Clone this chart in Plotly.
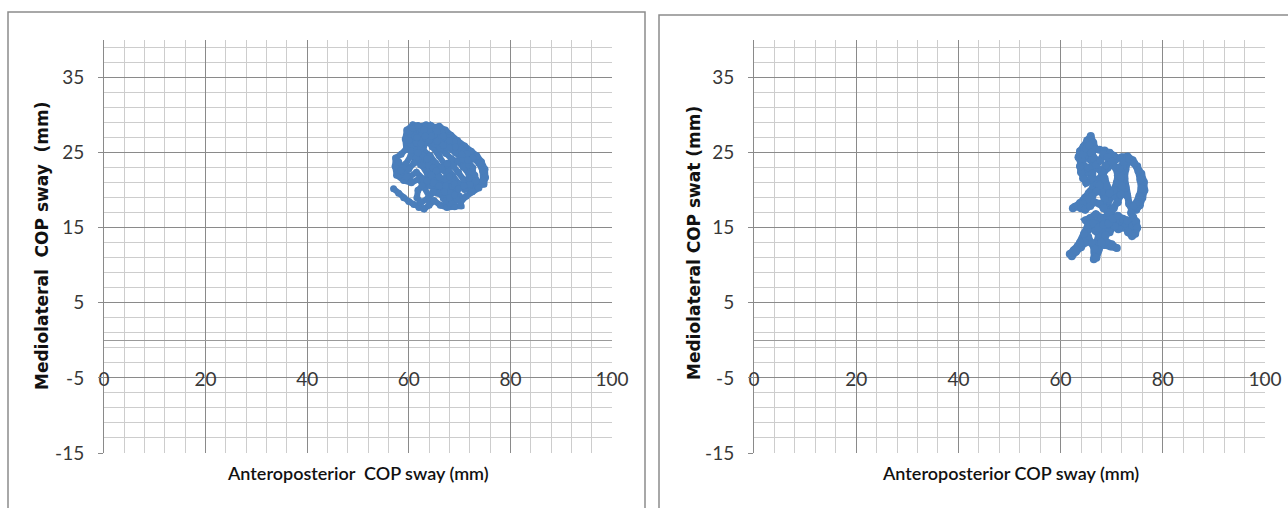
import plotly.graph_objects as go

# ---------------- data ----------------
left_x = [57.0, 58.0, 59.0, 60.0, 61.0, 62.0, 63.0, 64.0, 65.0, 66.2, 67.5, 69.0, 70.3, 70.0, 68.5, 67.0, 65.5, 64.0, 63.0, 62.0,
          60.5, 59.0, 57.6, 57.3, 57.4, 58.5, 59.5, 59.3, 59.6, 60.8, 62.0, 63.4, 64.8, 66.0, 67.2, 68.3, 69.6, 71.0, 72.3, 73.4,
          74.3, 75.0, 75.1, 74.8, 73.5, 72.3, 71.0, 69.8, 68.6, 67.3, 66.0, 64.6, 63.3, 62.2, 61.2, 60.5, 61.0, 62.3, 63.8, 65.2,
          66.5, 67.8, 69.0, 69.5, 69.0, 68.0, 66.6, 65.3, 64.2, 63.0, 61.6, 60.4, 59.4, 59.0, 60.2, 61.5, 62.8, 64.2, 65.6, 66.8,
          68.0, 66.5, 65.0, 63.5, 62.4, 61.5, 62.6, 63.8, 65.0, 66.3, 67.4, 68.6, 70.0, 71.3, 72.2, 73.0, 73.7, 72.8, 71.8, 70.7,
          69.6, 68.4, 67.3, 66.2, 65.1, 64.0, 63.0, 62.8, 63.8, 64.9, 66.1, 67.4, 68.5, 69.5, 70.2, 71.3, 72.5, 73.8, 74.6, 74.5,
          73.8, 72.6, 71.4, 70.2, 69.0, 67.8, 66.6, 65.3, 64.0, 62.6, 61.2, 60.2, 60.0, 60.3, 61.5, 62.6, 63.7, 64.8, 66.0, 67.2,
          68.2, 67.2, 66.0, 64.8, 63.6, 62.4, 61.6, 60.8, 61.8, 63.0, 64.4, 65.6, 66.8, 68.0, 69.2, 70.6, 71.8, 72.6, 73.2, 72.0,
          70.8, 69.8, 68.8, 67.6, 66.4, 65.4, 64.4, 63.6, 62.6, 61.8, 61.6, 62.4, 63.6, 64.8, 66.0, 67.0, 68.0, 69.0, 69.8, 70.8,
          71.8, 72.6, 71.6, 70.4, 69.2, 68.0, 66.8, 65.6, 64.4, 63.2, 62.4, 61.8, 61.0, 60.0, 58.8, 58.0, 58.4, 59.6]
left_y = [20.2, 19.6, 19.0, 18.5, 18.1, 17.7, 17.5, 18.0, 18.6, 18.0, 17.7, 17.8, 17.9, 19.2, 20.5, 21.5, 20.0, 19.2, 20.4, 21.5,
          21.0, 21.3, 22.0, 23.2, 24.3, 24.8, 25.5, 26.8, 28.0, 28.7, 28.5, 28.7, 28.4, 28.5, 28.0, 27.3, 26.6, 25.9, 25.2, 24.6,
          23.8, 22.8, 21.7, 20.8, 20.5, 20.2, 20.1, 20.9, 22.0, 23.3, 24.6, 25.8, 26.9, 27.8, 27.2, 26.0, 24.5, 23.4, 22.4, 21.3,
          20.3, 19.3, 18.5, 19.5, 20.8, 21.8, 22.7, 23.6, 24.6, 25.2, 25.4, 24.6, 23.5, 22.4, 21.8, 22.4, 21.5, 20.6, 19.6, 18.9,
          18.3, 20.6, 22.1, 23.6, 24.8, 26.3, 27.6, 27.7, 27.3, 27.0, 26.2, 25.4, 24.6, 23.8, 22.8, 22.0, 21.0, 21.3, 22.2, 23.1,
          23.8, 24.2, 24.9, 25.6, 26.2, 26.6, 26.0, 24.6, 23.4, 22.6, 21.6, 20.6, 19.6, 18.8, 18.4, 19.2, 19.8, 20.3, 21.3, 22.6,
          23.6, 24.3, 24.9, 25.6, 26.4, 27.0, 27.6, 28.2, 27.9, 28.1, 28.3, 27.8, 26.6, 25.3, 24.4, 23.3, 22.1, 21.0, 19.6, 18.6,
          19.6, 20.6, 21.8, 23.0, 24.2, 25.6, 27.0, 28.2, 28.6, 28.0, 27.2, 26.5, 26.0, 25.6, 25.0, 24.2, 23.4, 22.4, 21.2, 20.8,
          21.4, 22.4, 23.2, 23.6, 23.0, 22.6, 22.0, 21.2, 20.6, 20.0, 19.0, 18.4, 18.8, 19.8, 20.6, 19.8, 19.0, 19.4, 20.2, 20.6,
          21.6, 23.0, 24.0, 24.8, 25.8, 26.6, 27.2, 27.8, 28.6, 27.2, 26.2, 25.0, 23.6, 22.8, 23.0, 23.8, 22.6, 21.8]

right_x = [61.8, 62.6, 63.4, 64.2, 64.8, 65.4, 66.2, 67.2, 68.3, 69.5, 70.7, 71.8, 72.8, 73.6, 74.4, 74.6, 73.8, 73.4, 72.5, 71.3,
           70.2, 69.0, 68.0, 67.4, 66.8, 66.6, 66.5, 66.9, 67.6, 68.6, 69.8, 71.0, 70.0, 68.8, 67.8, 66.8, 65.8, 64.9, 65.8, 66.9,
           68.0, 69.2, 70.4, 69.8, 69.2, 68.6, 67.8, 66.8, 65.8, 64.8, 63.8, 62.8, 62.4, 63.4, 64.5, 65.5, 66.4, 67.4, 68.3, 69.2,
           70.2, 71.0, 72.0, 73.1, 74.1, 75.0, 75.8, 76.3, 76.4, 76.0, 75.5, 74.8, 74.0, 73.4, 73.0, 72.7, 72.5, 72.7, 73.0, 72.2,
           71.6, 71.2, 70.8, 70.2, 69.4, 68.6, 68.0, 67.2, 66.3, 65.3, 64.6, 64.0, 63.5, 63.8, 64.5, 65.2, 65.9, 66.4, 66.8, 67.6,
           68.6, 69.6, 70.4, 69.6, 68.8, 68.0, 67.2, 66.4, 65.6, 64.8, 64.2, 64.6, 65.5, 66.2, 65.8, 65.0, 64.4, 64.0, 63.8, 64.4,
           65.0, 65.6, 66.0, 66.6, 67.0, 67.8, 68.4, 69.2, 70.0, 70.8, 71.2, 71.0, 70.4, 69.6, 69.0, 68.6, 67.6, 67.0, 66.2, 65.2,
           64.4, 64.0, 64.8, 65.8, 66.6, 67.6, 68.4, 69.4, 70.4, 71.2, 71.8, 72.0, 71.8, 71.6, 72.4, 73.4, 74.4, 75.2, 75.6, 75.8,
           75.4, 74.8, 74.2, 73.8, 74.2, 74.8, 75.0, 74.6, 74.0, 73.2, 72.6, 71.6, 70.6, 69.6, 68.8, 68.0, 67.4, 67.0, 66.6, 66.0,
           65.4, 64.8, 64.0, 63.0, 62.2, 63.0, 63.8, 64.6, 65.4, 66.4, 67.4, 68.4, 69.4, 70.2, 71.2, 72.2, 73.0]
right_y = [11.5, 12.0, 12.6, 13.2, 14.0, 14.8, 15.4, 15.8, 16.0, 15.9, 15.7, 15.8, 15.6, 15.9, 15.4, 14.6, 14.2, 15.2, 15.0, 14.8,
           15.4, 15.0, 14.4, 13.6, 12.8, 11.8, 10.8, 11.9, 12.6, 12.7, 12.5, 12.3, 12.8, 13.2, 13.8, 14.6, 15.5, 16.0, 16.3, 16.8,
           16.3, 16.6, 16.4, 17.4, 18.4, 19.4, 20.2, 20.6, 19.8, 19.0, 18.3, 17.8, 17.6, 17.9, 18.6, 19.6, 20.6, 21.4, 22.2, 23.0,
           23.5, 24.2, 24.4, 24.5, 24.0, 23.2, 22.2, 21.1, 20.0, 19.0, 18.0, 17.4, 17.3, 18.2, 19.3, 20.4, 21.6, 22.8, 23.6, 23.2,
           22.2, 21.2, 20.2, 19.2, 18.6, 18.8, 19.8, 20.8, 21.7, 22.4, 22.8, 23.6, 24.4, 25.2, 25.8, 26.6, 27.2, 26.3, 25.5, 25.4,
           25.3, 25.0, 24.6, 24.0, 23.3, 22.5, 22.9, 23.6, 24.2, 24.6, 24.0, 23.2, 23.0, 22.2, 21.4, 21.0, 21.6, 22.4, 23.2, 24.8,
           25.6, 26.0, 25.0, 24.2, 23.4, 24.0, 24.8, 24.4, 23.8, 23.0, 22.0, 21.0, 20.0, 19.6, 20.6, 21.6, 20.6, 19.8, 19.2, 18.8,
           18.2, 17.6, 17.4, 17.9, 18.4, 18.2, 17.6, 17.0, 17.6, 18.4, 19.4, 20.6, 21.8, 23.0, 23.8, 24.2, 23.6, 22.6, 21.4, 20.2,
           19.2, 18.2, 17.8, 17.0, 16.4, 15.8, 15.0, 14.2, 13.9, 14.4, 15.6, 16.0, 15.2, 14.4, 14.0, 13.0, 12.0, 11.0, 12.2, 13.0,
           13.8, 13.0, 12.4, 11.8, 11.2, 12.0, 13.0, 14.2, 15.4, 15.6, 15.0, 15.4, 15.6, 16.2, 16.6, 16.2, 16.0]

x_tick_vals = [0, 20, 40, 60, 80, 100]
y_tick_vals = [-15, -5, 5, 15, 25, 35]
left_ytitle = "Mediolateral  COP sway  (mm)"
right_ytitle = "Mediolateral COP swat (mm)"
left_xtitle = "Anteroposterior  COP sway (mm)"
right_xtitle = "Anteroposterior COP sway (mm)"

# ---------------- layout helpers ----------------
W, H = 1288, 508
BLUE = "#4a7ebb"
MAJOR = "#8a8a8a"
MINOR = "#cdcdcd"
TXT = "#383838"
TICKFONT = dict(family="Lato, Liberation Sans, sans-serif", size=19, color=TXT)


def fx(px):
    return px / W


def fy(py):
    return 1 - py / H


PLOT_TOP, PLOT_BOT = 40, 453
Y_AXIS_AT = 378  # pixel row of y = -5 where x tick labels sit

fig = go.Figure()
fig.add_trace(go.Scatter(x=left_x, y=left_y, mode="lines+markers",
                         line=dict(color=BLUE, width=6), marker=dict(color=BLUE, size=7),
                         xaxis="x", yaxis="y", showlegend=False, hoverinfo="skip"))
fig.add_trace(go.Scatter(x=right_x, y=right_y, mode="lines+markers",
                         line=dict(color=BLUE, width=7), marker=dict(color=BLUE, size=8),
                         xaxis="x2", yaxis="y2", showlegend=False, hoverinfo="skip"))


def xaxis_cfg(dom):
    return dict(domain=dom, range=[0, 100], tickmode="array", tickvals=x_tick_vals,
                ticktext=[str(v) for v in x_tick_vals],
                showgrid=True, gridcolor=MAJOR, gridwidth=1,
                minor=dict(dtick=4, tick0=0, showgrid=True, gridcolor=MINOR, gridwidth=1, ticks=""),
                zeroline=False, showline=False, ticks="", automargin=False,
                anchor="free", position=fy(Y_AXIS_AT),
                tickfont=TICKFONT, ticklabelstandoff=-12, fixedrange=True)


def yaxis_cfg(anchor):
    return dict(domain=[fy(PLOT_BOT), fy(PLOT_TOP)], range=[-15, 40], anchor=anchor,
                tickmode="array", tickvals=y_tick_vals, ticktext=[str(v) for v in y_tick_vals],
                showgrid=True, gridcolor=MAJOR, gridwidth=1,
                minor=dict(dtick=2, tick0=-15, showgrid=True, gridcolor=MINOR, gridwidth=1, ticks=""),
                zeroline=True, zerolinecolor="#9a9a9a", zerolinewidth=1,
                showline=True, linecolor=MAJOR, linewidth=1, automargin=False,
                ticks="outside", ticklen=5, tickcolor=MAJOR,
                tickfont=TICKFONT, ticklabelstandoff=10, fixedrange=True)


fig.update_layout(
    width=W, height=H, margin=dict(l=0, r=0, t=0, b=0, autoexpand=False),
    paper_bgcolor="white", plot_bgcolor="white",
    xaxis=xaxis_cfg([fx(104), fx(612)]),
    yaxis=yaxis_cfg("x"),
    xaxis2=xaxis_cfg([fx(754), fx(1265)]),
    yaxis2=yaxis_cfg("x2"),
)

# chart-area frames
fig.add_shape(type="rect", xref="paper", yref="paper", x0=fx(8), x1=fx(645), y0=fy(540), y1=fy(12),
              line=dict(color="#8c8c8c", width=1.5), layer="below")
fig.add_shape(type="rect", xref="paper", yref="paper", x0=fx(659), x1=fx(1320), y0=fy(540), y1=fy(15),
              line=dict(color="#8c8c8c", width=1.5), layer="below")

TITLEFONT_Y = dict(family="DejaVu Sans, Verdana, sans-serif", size=17, color="#111111")
TITLEFONT_X = dict(family="Lato, Liberation Sans, sans-serif", size=18, color="#111111", weight=600)

fig.add_annotation(text=f"<b>{left_ytitle}</b>", xref="paper", yref="paper", x=fx(42), y=fy(246),
                   textangle=-90, showarrow=False, font=TITLEFONT_Y, xanchor="center", yanchor="middle")
fig.add_annotation(text=f"<b>{right_ytitle}</b>", xref="paper", yref="paper", x=fx(694), y=fy(243),
                   textangle=-90, showarrow=False, font=TITLEFONT_Y, xanchor="center", yanchor="middle")
fig.add_annotation(text=left_xtitle, xref="paper", yref="paper", x=fx(358), y=fy(473),
                   showarrow=False, font=TITLEFONT_X, xanchor="center", yanchor="middle")
fig.add_annotation(text=right_xtitle, xref="paper", yref="paper", x=fx(1010), y=fy(473),
                   showarrow=False, font=TITLEFONT_X, xanchor="center", yanchor="middle")

fig.write_html("out.html")
